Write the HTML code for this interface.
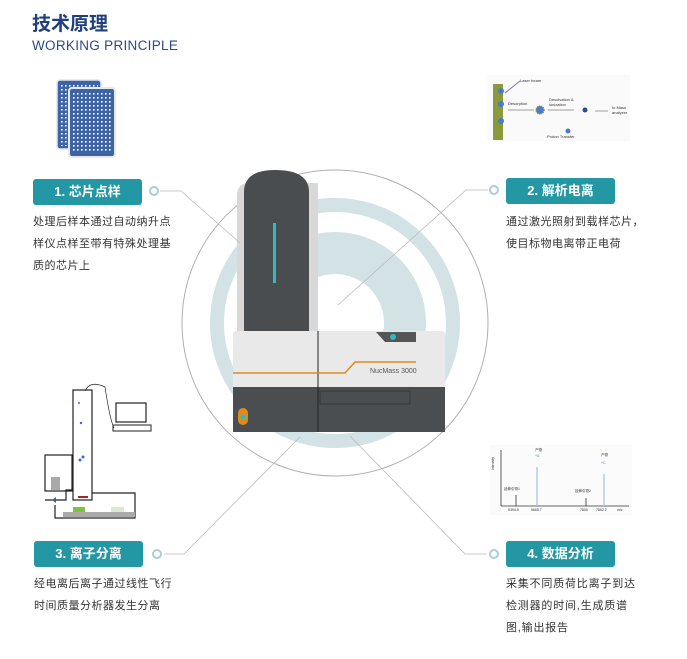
<!DOCTYPE html>
<html><head><meta charset="utf-8"><style>
body{margin:0;width:687px;height:659px;background:#fff;position:relative;overflow:hidden;font-family:"Liberation Sans","Noto Sans CJK SC",sans-serif}
.t{position:absolute;color:#333;font-size:11px;letter-spacing:0.5px;line-height:22px}
.b{position:absolute;background:#2397a3;color:#fff;font-weight:bold;font-size:13px;text-align:center;border-radius:3px;height:26px;line-height:26px;width:109px}
</style></head><body>
<div style="position:absolute;left:32px;top:9px;font-size:19px;font-weight:bold;color:#1f3f7e;font-family:'Liberation Sans','Noto Sans CJK SC',sans-serif">技术原理</div>
<div style="position:absolute;left:32px;top:38px;font-size:13.5px;color:#2c4a8a;letter-spacing:0.3px">WORKING PRINCIPLE</div>
<svg width="687" height="659" style="position:absolute;left:0;top:0">
<defs>
<pattern id="dots" width="4" height="4" patternUnits="userSpaceOnUse"><rect width="4" height="4" fill="#3f64a3"/><rect x="1" y="1" width="1.6" height="1.6" fill="#fff"/></pattern>
</defs>
<rect x="57" y="80" width="44" height="69" rx="3" fill="#3f64a3" stroke="#dfe6f0" stroke-width="1.5"/>
<rect x="60" y="83" width="38" height="63" fill="url(#dots)"/>
<rect x="69" y="88" width="46" height="69" rx="3" fill="#3f64a3" stroke="#e5e9ef" stroke-width="2"/>
<rect x="73" y="92" width="38" height="61" fill="url(#dots)"/>
<circle cx="335" cy="323" r="153" fill="none" stroke="#b0b0b0" stroke-width="1"/>
<circle cx="335" cy="323" r="118" fill="none" stroke="#d2e2e5" stroke-width="14"/>
<circle cx="335" cy="323" r="70" fill="none" stroke="#d2e2e5" stroke-width="42"/>
<path d="M237 195 Q237 183 250 183 L318 183 L318 332 L237 332 Z" fill="#d8d8d8"/>
<path d="M244 332 L244 192 Q244 170 275 170 Q309 170 309 192 L309 332 Z" fill="#4a4d4f"/>
<rect x="273" y="223" width="3" height="60" fill="#2bbcc4"/>
<rect x="233" y="331" width="212" height="58" rx="3" fill="#e9e9e9"/>
<rect x="233" y="387" width="212" height="45" fill="#4b4e50"/>
<line x1="318" y1="331" x2="318" y2="432" stroke="#222" stroke-width="1"/>
<polyline points="233,373 345,373 355,362 416,362" fill="none" stroke="#e08a1a" stroke-width="1.5"/>
<text x="370" y="373" font-size="7" fill="#555" font-family="Liberation Sans">NucMass 3000</text>
<path d="M376 332 L416 332 L416 342 L385 342 Z" fill="#555"/>
<circle cx="393" cy="337" r="3" fill="#2bbcc4"/>
<rect x="320" y="391" width="90" height="13" fill="none" stroke="#333" stroke-width="0.8"/>
<rect x="238" y="408" width="10" height="17" rx="5" fill="#e08a1a"/>
<circle cx="243" cy="417" r="2.5" fill="#2bbcc4"/>
<g stroke="#bbb" stroke-width="0.8" fill="none">
<polyline points="160,191 181,191 240,243"/>
<polyline points="488,190 466,190 338,305"/>
<polyline points="164,554 184,554 300,437"/>
<polyline points="487,554 465,554 350,436"/>
</g>
<g fill="#fff" stroke="#a9cfd6" stroke-width="2">
<circle cx="154" cy="191" r="4"/><circle cx="494" cy="190" r="4"/>
<circle cx="157" cy="554" r="4"/><circle cx="494" cy="554" r="4"/>
</g>
<rect x="487" y="75" width="143" height="66" fill="#fafafa"/>
<rect x="493" y="84" width="10" height="56" fill="#8a9a3a"/>
<circle cx="501" cy="91" r="3" fill="#4a7ad0"/><circle cx="501" cy="104" r="3" fill="#4a7ad0"/><circle cx="501" cy="121" r="3" fill="#4a7ad0"/>
<line x1="505" y1="93" x2="520" y2="81" stroke="#8070b0"/>
<text x="520" y="82" font-size="4" fill="#333">Laser beam</text>
<text x="508" y="105" font-size="4" fill="#333">Desorption</text>
<line x1="508" y1="110" x2="534" y2="110" stroke="#444" stroke-width="0.5"/>
<circle cx="540" cy="110" r="4" fill="#4a7ad0" stroke="#8a9a3a" stroke-width="1.5" stroke-dasharray="1 1"/>
<text x="549" y="101" font-size="4" fill="#333">Desolvation &amp;</text>
<text x="549" y="106" font-size="4" fill="#333">ionization</text>
<line x1="548" y1="110" x2="574" y2="110" stroke="#444" stroke-width="0.5"/>
<circle cx="585" cy="110" r="2.5" fill="#2a4a9a"/>
<line x1="595" y1="111" x2="608" y2="111" stroke="#444" stroke-width="0.5"/>
<text x="612" y="109" font-size="4" fill="#333">to Mass</text><text x="612" y="114" font-size="4" fill="#333">analyzer</text>
<circle cx="568" cy="131" r="2.5" fill="#4a7ad0"/>
<text x="547" y="138" font-size="4" fill="#333">Proton Transfer</text>
<g stroke="#222" stroke-width="1.2" fill="none">
<rect x="73" y="390" width="19" height="110"/>
<polyline points="73,490 66,490 66,500 45,500"/>
<rect x="45" y="455" width="27" height="36"/>
<polyline points="55,505 55,518 135,518 135,493 92,493"/>
<rect x="116" y="403" width="30" height="19"/>
<path d="M85 391 Q90 380 105 387 Q110 420 114 428" stroke-width="0.7"/>
</g>
<rect x="113" y="425" width="38" height="6" fill="none" stroke="#222"/>
<rect x="63" y="512" width="72" height="5" fill="#aaa"/>
<rect x="73" y="507" width="12" height="5" fill="#7bc143"/>
<rect x="111" y="507" width="13" height="5" fill="#d8ead0"/>
<rect x="78" y="496" width="10" height="2" fill="#a22"/>
<circle cx="79" cy="403" r="1" fill="#3a6ad0"/><circle cx="81" cy="423" r="1.2" fill="#3a6ad0"/><circle cx="83" cy="457" r="1.5" fill="#3a6ad0"/><circle cx="80" cy="460" r="1.5" fill="#3a6ad0"/>
<rect x="51" y="477" width="9" height="13" fill="#aaa"/>
<path d="M52 500 l4 -3 v6 z" fill="#3060b0"/>
<rect x="490" y="445" width="142" height="70" fill="#fbfbfb"/>
<g stroke="#333" stroke-width="0.8"><line x1="501" y1="450" x2="501" y2="506"/><line x1="501" y1="506" x2="629" y2="506"/>
<line x1="516" y1="506" x2="516" y2="495"/><line x1="586" y1="506" x2="586" y2="498"/></g>
<line x1="537" y1="506" x2="537" y2="467" stroke="#9fc0ee" stroke-width="1.2"/>
<line x1="604" y1="506" x2="604" y2="474" stroke="#9fc0ee" stroke-width="1.2"/>
<g font-size="3.5" fill="#333"><text x="535" y="451">产物</text><text x="535" y="457" fill="#4a7ad0">+A</text><text x="601" y="456">产物</text><text x="601" y="464" fill="#4a7ad0">+C</text>
<text x="504" y="490">延伸引物1</text><text x="575" y="492">延伸引物2</text>
<text x="508" y="511">5394.5</text><text x="531" y="511">5665.7</text><text x="580" y="511">7805</text><text x="596" y="511">7852.2</text><text x="617" y="511">m/z</text>
<text x="494" y="470" transform="rotate(-90 494 470)">Intensity</text></g>
</svg>
<div class="b" style="left:33px;top:179px">1. 芯片点样</div>
<div class="b" style="left:506px;top:178px">2. 解析电离</div>
<div class="b" style="left:34px;top:541px">3. 离子分离</div>
<div class="b" style="left:506px;top:541px">4. 数据分析</div>
<div class="t" style="left:33px;top:211px">处理后样本通过自动纳升点<br>样仪点样至带有特殊处理基<br>质的芯片上</div>
<div class="t" style="left:506px;top:211px">通过激光照射到载样芯片，<br>使目标物电离带正电荷</div>
<div class="t" style="left:34px;top:573px">经电离后离子通过线性飞行<br>时间质量分析器发生分离</div>
<div class="t" style="left:506px;top:573px;letter-spacing:0.8px">采集不同质荷比离子到达<br>检测器的时间,生成质谱<br>图,输出报告</div>
</body></html>
